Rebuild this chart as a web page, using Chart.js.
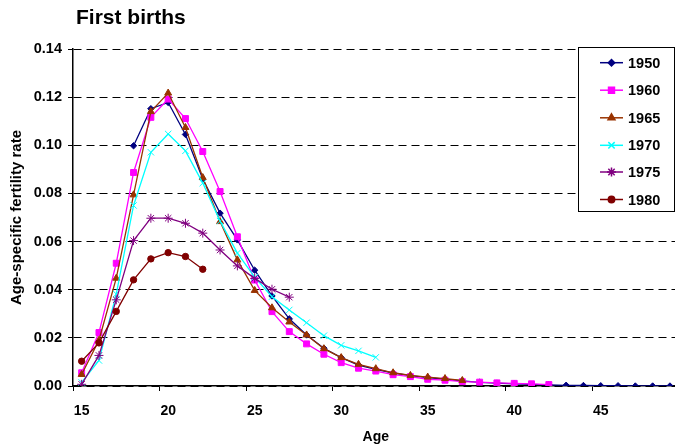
<!DOCTYPE html>
<html>
<head>
<meta charset="utf-8">
<script src="https://cdn.jsdelivr.net/npm/chart.js@4/dist/chart.umd.min.js"></script>
<style>
  html, body { margin: 0; padding: 0; background: #fff; overflow: hidden; }
  #wrap { width: 700px; height: 448px; }
</style>
</head>
<body>
<div id="wrap"><canvas id="myChart" width="700" height="448"></canvas></div>
<script>
// ages 15..49
const ages = [];
for (let a = 15; a <= 49; a++) ages.push(String(a));

const yTicks = [0, 0.02, 0.04, 0.06, 0.08, 0.10, 0.12, 0.14];

const s1950 = [null, null, null, 0.0998, 0.1152, 0.1178, 0.1045, 0.0860, 0.0718, 0.0607,
  0.0481, 0.0374, 0.0279, 0.0212, 0.0157, 0.0118, 0.0087, 0.0069, 0.0054, 0.0043,
  0.0035, 0.0028, 0.0021, 0.0015, 0.0012, 0.0009, 0.0007, 0.0005, 0.0003, 0.0002,
  0.0001, 0.0001, 0.0000, 0.0000, 0.0000];
const s1960 = [0.0055, 0.0222, 0.0510, 0.0887, 0.1116, 0.1192, 0.1111, 0.0974, 0.0808, 0.0620,
  0.0440, 0.0309, 0.0226, 0.0175, 0.0132, 0.0097, 0.0074, 0.0062, 0.0047, 0.0039,
  0.0028, 0.0024, 0.0018, 0.0016, 0.0013, 0.0011, 0.0009, 0.0006];
const s1965 = [0.0048, 0.0190, 0.0448, 0.0794, 0.1140, 0.1217, 0.1074, 0.0866, 0.0683, 0.0524,
  0.0397, 0.0325, 0.0266, 0.0212, 0.0155, 0.0118, 0.0090, 0.0072, 0.0055, 0.0044,
  0.0037, 0.0031, 0.0023];
const s1970 = [0.0015, 0.0106, 0.0382, 0.0750, 0.0971, 0.1047, 0.0977, 0.0843, 0.0685, 0.0552,
  0.0452, 0.0371, 0.0316, 0.0263, 0.0209, 0.0169, 0.0146, 0.0119];
const s1975 = [0.0007, 0.0127, 0.0358, 0.0604, 0.0697, 0.0697, 0.0676, 0.0635, 0.0565, 0.0499,
  0.0447, 0.0402, 0.0369];
const s1980 = [0.0103, 0.0179, 0.0310, 0.0441, 0.0528, 0.0554, 0.0538, 0.0485];

const FONT = 'Arial, "Liberation Sans", sans-serif';

function series(label, data, color, style, radius, n) {
    return {
        label: label,
        data: data,
        borderColor: color,
        backgroundColor: color,
        pointBackgroundColor: color,
        pointBorderColor: color,
        pointStyle: style,
        pointRadius: radius,
        pointHoverRadius: radius,
        pointBorderWidth: 1,
        borderWidth: 1.3,
        tension: 0,
        fill: false,
        order: n
    };
}

const datasets = [
    series('1950', s1950, '#000080', 'rectRot', 3.2, 5),
    series('1960', s1960, '#FF00FF', 'rect', 4.2, 4),
    series('1965', s1965, '#993300', 'triangle', 4, 3),
    series('1970', s1970, '#00FFFF', 'crossRot', 4.5, 2),
    series('1975', s1975, '#800080', 'star', 4.5, 1),
    series('1980', s1980, '#800000', 'circle', 3.2, 0)
];

// title + legend box drawn at fixed spots, like the original
const boxLegend = {
    id: 'boxLegend',
    afterDraw(chart) {
        const ctx = chart.ctx;
        ctx.save();
        ctx.fillStyle = '#000';
        ctx.font = 'bold 21px ' + FONT;
        ctx.textBaseline = 'alphabetic';
        ctx.textAlign = 'left';
        ctx.fillText('First births', 76, 24);

        ctx.fillStyle = '#fff';
        ctx.fillRect(578.5, 47.5, 96, 164);
        ctx.strokeStyle = '#000';
        ctx.lineWidth = 1;
        ctx.strokeRect(578.5, 47.5, 96, 164);
        const rows = [62.7, 90.2, 117.8, 145.3, 172, 199.5];
        chart.data.datasets.forEach((ds, i) => {
            const y = rows[i];
            ctx.strokeStyle = ds.borderColor;
            ctx.lineWidth = 1.5;
            ctx.beginPath();
            ctx.moveTo(600, y);
            ctx.lineTo(623, y);
            ctx.stroke();
            ctx.fillStyle = ds.borderColor;
            if (Chart.helpers && Chart.helpers.drawPoint) {
                Chart.helpers.drawPoint(ctx, {pointStyle: ds.pointStyle, radius: ds.pointRadius, rotation: 0, borderWidth: 1}, 611.5, y);
            }
            ctx.fillStyle = '#000';
            ctx.font = 'bold 14.5px ' + FONT;
            ctx.textBaseline = 'middle';
            ctx.textAlign = 'left';
            ctx.fillText(ds.label, 628, y + 1);
        });
        ctx.restore();
    }
};

const ctx = document.getElementById('myChart');
const chart = new Chart(ctx, {
    type: 'line',
    data: {
        labels: ages,
        datasets: datasets
    },
    options: {
        responsive: false,
        animation: false,
        events: [],
        layout: { padding: { left: 0, right: 21.4, top: 49, bottom: 0 } },
        plugins: {
            legend: { display: false },
            tooltip: { enabled: false },
            title: { display: false }
        },
        scales: {
            x: {
                type: 'category',
                offset: true,
                grid: {
                    offset: true,
                    drawOnChartArea: false,
                    tickLength: 5,
                    tickWidth: 1,
                    tickColor: (c) => (c.index % 5 === 0 ? '#000' : 'rgba(0,0,0,0)')
                },
                border: { display: true, color: '#000', width: 1.5 },
                ticks: {
                    autoSkip: false,
                    maxRotation: 0,
                    padding: 12,
                    color: '#000',
                    font: { family: FONT, size: 14, weight: 'bold' },
                    callback: (v, i) => (i % 5 === 0 ? ages[i] : '')
                },
                title: {
                    display: true,
                    text: 'Age',
                    color: '#000',
                    font: { family: FONT, size: 14, weight: 'bold' },
                    padding: { top: 0, bottom: 2 }
                },
                afterFit: (s) => { s.height = 62; }
            },
            y: {
                min: 0,
                max: 0.14,
                afterBuildTicks: (s) => { s.ticks = yTicks.map(v => ({ value: v })); },
                grid: {
                    color: '#000',
                    lineWidth: 1,
                    tickColor: '#000',
                    tickLength: 5
                },
                border: { display: true, color: '#000', width: 1.5, dash: [8, 5] },
                ticks: {
                    padding: 6,
                    color: '#000',
                    font: { family: FONT, size: 14.5, weight: 'bold' },
                    callback: (v) => v.toFixed(2)
                },
                title: {
                    display: true,
                    text: 'Age-specific fertility rate',
                    color: '#000',
                    font: { family: FONT, size: 15, weight: 'bold' },
                    padding: { top: 8, bottom: 0 }
                },
                afterFit: (s) => { s.width = 73; }
            }
        }
    },
    plugins: [boxLegend]
});
</script>
</body>
</html>
